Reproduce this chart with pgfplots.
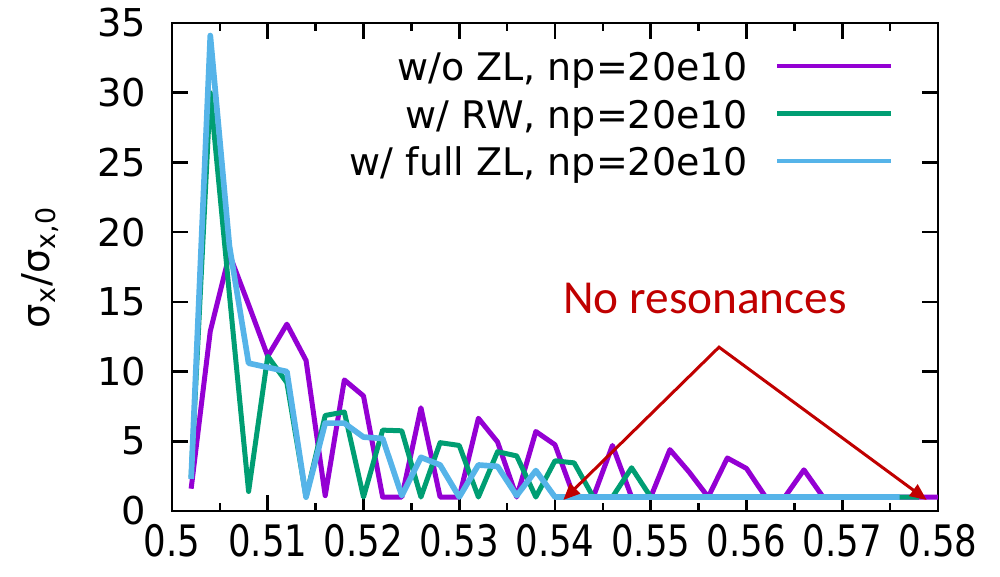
\documentclass[border=0pt]{standalone}
\usepackage{fontspec}
\setmainfont{DejaVu Sans}
\newfontfamily\xtickfont{DejaVu Sans}[FakeStretch=0.82]
\newfontfamily\notefont{Carlito}
\usepackage{pgfplots}
\usepackage{pgfplotstable}
\pgfplotsset{compat=1.18}
\usetikzlibrary{arrows.meta,calc}

\definecolor{cviolet}{HTML}{9400D3}
\definecolor{cgreen}{HTML}{009E73}
\definecolor{cblue}{HTML}{56B4E9}
\definecolor{cred}{HTML}{C00000}

% w/o ZL
\pgfplotstableread{
x y
0.502 1.6
0.504 12.9
0.506 18.4
0.508 14.8
0.510 11.1
0.512 13.4
0.514 10.8
0.516 1.1
0.518 9.4
0.520 8.25
0.522 1
0.524 1
0.526 7.4
0.528 1
0.530 1
0.532 6.65
0.534 4.95
0.536 1
0.538 5.7
0.540 4.75
0.542 1
0.544 1
0.546 4.7
0.548 1
0.550 1
0.552 4.4
0.554 2.8
0.556 1
0.558 3.8
0.560 3.05
0.562 1
0.564 1
0.566 2.95
0.568 1
0.570 1
0.572 1
0.574 1
0.576 1
0.578 1
0.580 1
}\woZL

% w/ RW
\pgfplotstableread{
x y
0.502 2.4
0.504 30.0
0.506 15.5
0.508 1.4
0.510 11.1
0.512 9.2
0.514 1.0
0.516 6.85
0.518 7.1
0.520 1.0
0.522 5.8
0.524 5.75
0.526 1.0
0.528 4.9
0.530 4.7
0.532 1.0
0.534 4.25
0.536 3.95
0.538 1.0
0.540 3.6
0.542 3.45
0.544 1
0.546 1
0.548 3.1
0.550 1
0.552 1
0.554 1
0.556 1
0.558 1
0.560 1
0.562 1
0.564 1
0.566 1
0.568 1
0.570 1
0.572 1
0.574 1
0.576 1
0.578 1
}\wRW

% w/ full ZL
\pgfplotstableread{
x y
0.502 2.3
0.504 34.1
0.506 19.0
0.508 10.6
0.510 10.3
0.512 10.0
0.514 1.0
0.516 6.3
0.518 6.3
0.520 5.3
0.522 5.2
0.524 1.1
0.526 3.85
0.528 3.3
0.530 1.0
0.532 3.3
0.534 3.2
0.536 1.1
0.538 2.9
0.540 1.0
0.542 1
0.544 1
0.546 1
0.548 1
0.550 1
0.552 1
0.554 1
0.556 1
0.558 1
0.560 1
0.562 1
0.564 1
0.566 1
0.568 1
0.570 1
0.572 1
0.574 1
0.576 1
}\fullZL

\begin{document}
\begin{tikzpicture}[font=\fontsize{11.5}{13.8}\selectfont]
\begin{axis}[
    scale only axis,
    width=229.8pt, height=146.4pt,
    xmin=0.5, xmax=0.58,
    ymin=0, ymax=35,
    xtick={0.5,0.51,0.52,0.53,0.54,0.55,0.56,0.57,0.58},
    minor x tick num=1,
    ytick={0,5,10,15,20,25,30,35},
    scaled x ticks=false,
    tick align=inside,
    major tick length=4.8pt,
    minor tick length=2.4pt,
    axis line style={line width=0.8pt},
    every tick/.style={black, line width=0.8pt},
    /pgf/number format/assume math mode=true,
    xticklabel style={/pgf/number format/fixed, /pgf/number format/precision=2,
        font=\xtickfont\fontsize{13}{15}\selectfont, yshift=-0.6pt},
    yticklabel style={xshift=-4.3pt},
    ylabel={σ\textsubscript{x}/σ\textsubscript{x,0}},
    every axis y label/.style={at={($(rel axis cs:0,0.5)+(-39.6pt,0pt)$)}, rotate=90, anchor=center},
    legend plot pos=right,
    legend cell align=right,
    legend image code/.code={\draw[#1, line width=1.3pt, line cap=butt] (0pt,2.6pt) -- (34.2pt,2.6pt);},
    legend style={draw=none, fill=none, at={(rel axis cs:1,1)}, anchor=north east,
        xshift=-13.2pt, yshift=-8.2pt, inner sep=0pt, row sep=0pt, column sep=8.1pt,
        font=\fontsize{11.4}{13.7}\selectfont,
        nodes={inner sep=0pt, text height=9pt, text depth=5.25pt}},
]
\coordinate (BL) at (rel axis cs:0,0);
\coordinate (TR) at (rel axis cs:1,1);
\addplot[cviolet, line width=1.5pt, line join=round] table {\woZL};
\addlegendentry{w/o ZL, np=20e10}
\addplot[cgreen, line width=1.5pt, line join=round] table {\wRW};
\addlegendentry{w/ RW, np=20e10}
\addplot[cblue, line width=1.7pt, line join=round] table {\fullZL};
\addlegendentry{w/ full ZL, np=20e10}

\node[anchor=base west, inner sep=0pt, text=cred, font=\notefont\fontsize{14.2}{17}\selectfont]
    at (axis cs:0.5408,14.2) {No resonances};
\draw[cred, line width=0.9pt, line join=miter,
    {Triangle[length=5pt,width=4.2pt]}-{Triangle[length=5pt,width=4.2pt]}]
    (axis cs:0.54087,0.79) -- (axis cs:0.55713,11.75) -- (axis cs:0.57882,0.79);
\end{axis}
\pgfresetboundingbox
\path[use as bounding box] ([xshift=-51.6pt,yshift=-19.8pt]BL) rectangle ([xshift=18.6pt,yshift=6.9pt]TR);
\end{tikzpicture}
\end{document}
